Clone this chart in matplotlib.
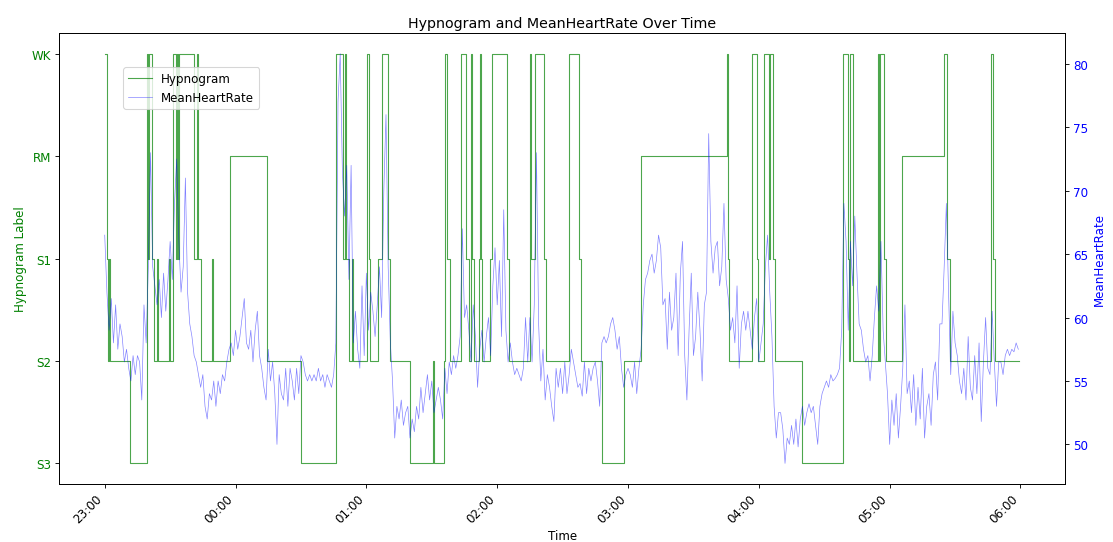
import matplotlib
matplotlib.use("Agg")
import matplotlib.pyplot as plt
import matplotlib.dates as mdates
import pandas as pd

plt.rcParams["font.size"] = 10.75

STAGES = ["S3", "S2", "S1", "RM", "WK"]

# hypnogram: minute offset from 23:00 at which each stage begins (last entry closes the night)
stage_start_min = [
    0, 1, 1.5, 2, 2.5, 11.5, 19.5, 20, 20.5, 21.5, 22.5, 24, 24.5, 29.5, 30,
    31.5, 32.5, 33, 33.5, 34, 41, 42.5, 43, 44, 49, 49.5, 57.5, 74.5, 90,
    106, 109.5, 110, 110.5, 112, 113.5, 114, 120.5, 121, 121.5, 125.5, 127,
    130, 131, 140, 150.5, 151, 155.5, 156, 157, 158.5, 163.5, 165.5, 167,
    168, 168.5, 169.5, 171.5, 172, 172.5, 173, 176.5, 177.5, 184.5, 185.5,
    195, 195.5, 197.5, 201.5, 202.5, 213, 217.5, 218.5, 228, 238, 246,
    285.5, 286, 286.5, 297, 299, 299.5, 302.5, 304.5, 305, 306.5, 307.5,
    320, 338.5, 341, 341.5, 342, 343, 354.5, 355, 355.5, 357.5, 358.5,
    365.5, 385, 386.5, 387.5, 406.5, 407.5, 408.5, 419.5,
]
stage_label = [
    "WK", "S1", "S2", "S1", "S2", "S3", "WK", "S1", "WK", "S1", "S2", "S1", "S2", "S1", "S2",
    "WK", "S1", "WK", "S1", "WK", "S1", "WK", "S1", "S2", "S1", "S2", "RM", "S2", "S3",
    "WK", "S1", "WK", "S1", "S2", "S1", "S2", "WK", "S1", "S2", "S1", "WK",
    "S1", "S2", "S3", "S2", "S3", "S2", "WK", "S1", "S2", "WK", "S1", "S2",
    "WK", "S1", "S2", "S1", "WK", "S1", "S2", "S1", "WK", "S1", "S2",
    "WK", "S1", "WK", "S1", "S2", "WK", "S1", "S2", "S3", "S2", "RM",
    "WK", "S1", "S2", "WK", "S1", "S2", "WK", "S1", "WK", "S1", "S2",
    "S3", "WK", "S1", "S2", "WK", "S2", "WK", "S2", "WK", "S1", "S2",
    "RM", "WK", "S1", "S2", "WK", "S1", "S2", "S2",
]

# mean heart rate, one value per minute starting at 23:00
mean_heart_rate = [
    66.5, 62.0, 59.0, 61.5, 58.0, 61.0, 57.5, 59.5, 58.5, 56.5,
    57.5, 56.0, 55.0, 57.0, 55.5, 57.0, 56.5, 53.5, 61.0, 58.0,
    64.0, 73.0, 64.0, 62.5, 61.0, 63.0, 60.0, 63.5, 60.5, 63.0,
    66.0, 63.0, 69.0, 72.5, 66.0, 62.0, 64.0, 71.0, 62.0, 59.5,
    58.5, 57.0, 56.5, 55.5, 54.5, 55.5, 53.0, 52.0, 54.0, 53.5,
    55.0, 53.0, 55.0, 54.0, 55.5, 55.0, 56.5, 57.5, 58.0, 57.0,
    59.0, 57.5, 58.5, 60.0, 61.5, 58.0, 57.5, 59.0, 56.5, 59.0,
    60.5, 57.0, 56.0, 54.5, 53.5, 57.5, 55.0, 56.5, 54.0, 50.0,
    55.5, 54.0, 53.5, 56.0, 53.0, 56.0, 55.0, 53.5, 56.0, 54.0,
    57.0, 56.5, 55.5, 55.0, 55.5, 55.0, 55.5, 55.0, 56.0, 55.0,
    55.5, 54.5, 55.5, 55.0, 54.5, 55.5, 58.0, 77.0, 80.8, 71.5,
    68.0, 72.0, 63.0, 72.0, 58.0, 60.5, 57.5, 56.0, 62.5, 57.0,
    63.5, 59.0, 62.0, 60.5, 58.5, 61.0, 64.0, 60.0, 70.0, 76.0,
    64.0, 58.0, 55.0, 50.5, 53.0, 52.0, 53.5, 51.5, 52.5, 53.0,
    50.5, 52.0, 51.0, 53.0, 52.0, 54.5, 52.5, 54.0, 55.5, 53.5,
    55.0, 52.5, 53.5, 54.5, 53.5, 52.0, 56.0, 54.0, 56.5, 55.5,
    57.0, 56.0, 57.0, 58.5, 67.0, 60.0, 61.0, 59.0, 56.5, 61.0,
    58.5, 54.5, 57.5, 59.0, 56.5, 58.5, 60.0, 57.0, 62.5, 65.5,
    61.0, 64.5, 58.5, 68.5, 59.0, 56.5, 58.0, 56.5, 55.5, 56.0,
    55.5, 55.0, 56.0, 60.0, 56.5, 60.0, 56.5, 61.0, 73.0, 59.5,
    55.0, 57.5, 53.5, 55.5, 54.5, 53.0, 51.8, 56.0, 54.5, 56.0,
    54.0, 56.5, 54.0, 55.5, 57.5, 56.5, 55.5, 54.5, 54.8, 53.8,
    56.5, 54.0, 56.0, 55.0, 56.0, 56.5, 55.0, 53.0, 58.0, 58.5,
    58.0, 58.5, 59.5, 60.0, 59.0, 57.5, 58.5, 56.0, 54.5, 55.5,
    56.0, 55.5, 54.5, 56.5, 54.0, 56.0, 57.5, 61.0, 63.0, 63.5,
    64.5, 65.0, 63.5, 64.5, 66.5, 65.5, 61.0, 61.5, 57.5, 62.0,
    59.0, 60.0, 63.5, 57.0, 63.5, 66.0, 57.0, 53.5, 59.0, 63.5,
    57.0, 58.5, 62.0, 59.0, 55.0, 61.0, 62.0, 74.5, 66.0, 63.5,
    65.5, 66.0, 62.5, 64.0, 69.0, 63.0, 61.5, 59.0, 60.0, 58.0,
    62.5, 56.0, 59.5, 60.5, 59.0, 60.5, 59.0, 57.5, 60.0, 61.5,
    56.5, 58.0, 59.5, 64.0, 66.5, 62.0, 58.5, 53.0, 50.5, 52.5,
    52.5, 51.2, 48.5, 50.5, 50.0, 51.5, 50.0, 52.0, 49.8, 52.0,
    53.0, 51.5, 52.5, 53.2, 52.5, 53.0, 51.5, 50.0, 53.0, 54.0,
    54.5, 55.0, 54.5, 55.5, 55.0, 55.2, 55.5, 56.0, 59.0, 69.0,
    66.0, 59.0, 66.0, 62.5, 68.0, 63.5, 59.5, 59.0, 57.5, 56.5,
    57.0, 55.0, 57.0, 60.0, 62.5, 60.5, 66.0, 59.0, 56.5, 54.0,
    50.0, 53.5, 51.5, 54.0, 50.5, 53.0, 56.0, 61.0, 54.0, 55.0,
    52.5, 55.5, 51.5, 54.5, 52.0, 56.0, 50.5, 53.0, 54.0, 51.5,
    55.5, 56.5, 53.5, 59.5, 59.5, 64.0, 69.0, 62.0, 55.5, 60.5,
    58.0, 57.0, 55.0, 54.0, 56.0, 53.5, 58.5, 54.5, 53.5, 57.0,
    54.0, 58.0, 51.8, 56.5, 60.0, 56.0, 55.5, 60.5, 56.5, 53.0,
    56.5, 56.5, 55.5, 57.0, 57.5, 57.0, 57.5, 57.3, 58.0, 57.5,
]

start = pd.Timestamp("2024-01-01 23:00")
hr_time = start + pd.to_timedelta(range(len(mean_heart_rate)), unit="min")
stage_time = start + pd.to_timedelta(stage_start_min, unit="min")
stage_level = [STAGES.index(s) for s in stage_label]

fig, ax1 = plt.subplots(figsize=(14, 6.83), dpi=79.5)
fig.subplots_adjust(left=0.053, right=0.957, bottom=0.107, top=0.937)

hyp_line, = ax1.plot(stage_time, stage_level, drawstyle="steps-post",
                     color="green", linewidth=1, alpha=0.7, label="Hypnogram")
ax1.set_yticks(range(len(STAGES)))
ax1.set_yticklabels(STAGES)
ax1.set_ylabel("Hypnogram Label", color="green")
ax1.tick_params(axis="y", labelcolor="green")
ax1.set_xlabel("Time")

ax2 = ax1.twinx()
hr_line, = ax2.plot(hr_time, mean_heart_rate, color="blue", linewidth=0.6,
                    alpha=0.5, label="MeanHeartRate")
ax2.set_ylabel("MeanHeartRate", color="blue")
ax2.tick_params(axis="y", labelcolor="blue")

ax1.xaxis.set_major_locator(mdates.HourLocator())
ax1.xaxis.set_major_formatter(mdates.DateFormatter("%H:%M"))
plt.setp(ax1.get_xticklabels(), rotation=45, ha="right")

ax1.set_title("Hypnogram and MeanHeartRate Over Time")
ax2.legend([hyp_line, hr_line], ["Hypnogram", "MeanHeartRate"],
           loc="upper left", bbox_to_anchor=(0.1108, 0.874),
           bbox_transform=fig.transFigure, borderaxespad=0)

fig.savefig("out.png", dpi=79.5)
